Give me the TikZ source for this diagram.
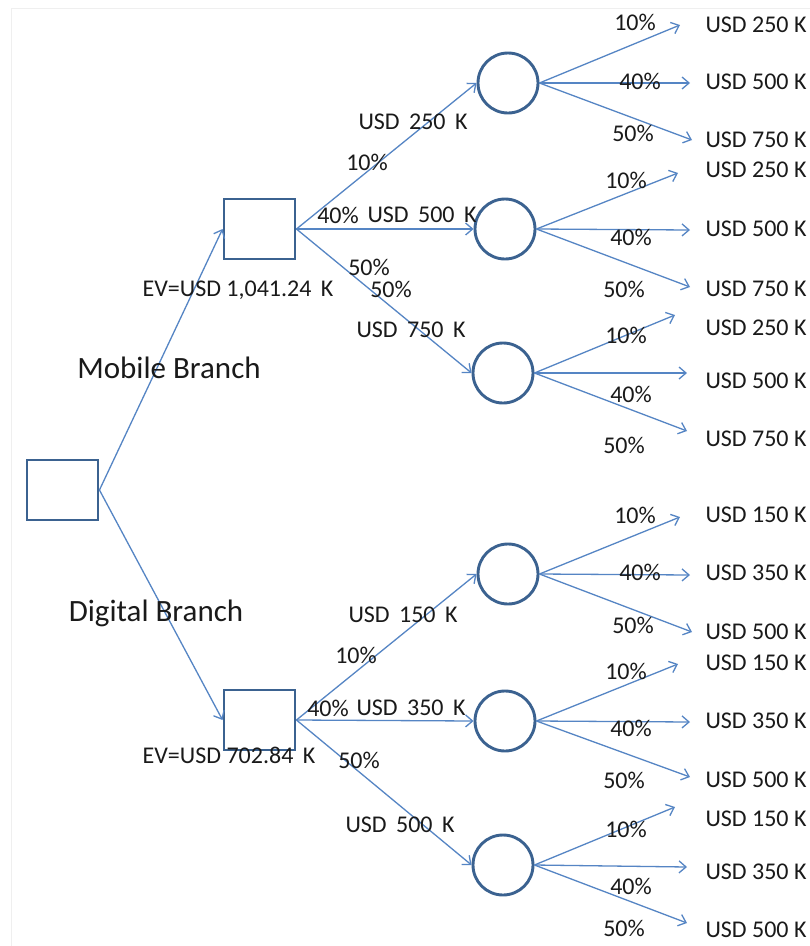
\documentclass[tikz,border=0pt]{standalone}
\usepackage{fontspec}
\setmainfont{Carlito}
\usetikzlibrary{arrows.meta}
\definecolor{shapeblue}{HTML}{3B6290}
\definecolor{linkblue}{HTML}{5585C4}
\definecolor{framegray}{HTML}{EFEFEF}
\definecolor{ink}{HTML}{1A1A1A}
\begin{document}
\begin{tikzpicture}[x=1pt,y=-1pt,
  decision/.style={draw=shapeblue,line width=2.9pt,fill=white,rectangle,
    minimum width=71pt,minimum height=60pt,inner sep=0pt},
  chance/.style={draw=shapeblue,line width=2.9pt,fill=white,circle,
    minimum size=60pt,inner sep=0pt},
  link/.style={draw=linkblue,line width=1.3pt,
    -{Straight Barb[length=7pt,width=12pt,line width=1.3pt]}},
  lbl/.style={inner sep=0pt,text=ink,font=\fontsize{24}{28}\selectfont},
  big/.style={inner sep=0pt,text=ink,font=\fontsize{31}{35}\selectfont},
]
\useasboundingbox (0,0) rectangle (810,946);
\fill[white] (0,0) rectangle (810,946);
% faint page frame
\draw[framegray,line width=0.8pt] (11,946) -- (11,8) -- (810,8);

% decision nodes
\node[decision] (root) at (62.5,490) {};
\node[decision] (mob) at (259.5,229) {};
\node[decision] (dig) at (259.5,720) {};

% chance nodes
\node[chance] (m1) at (508,83) {};
\node[chance] (m2) at (505,229) {};
\node[chance] (m3) at (503,373) {};
\node[chance] (d1) at (508,574) {};
\node[chance] (d2) at (505,721) {};
\node[chance] (d3) at (503,865) {};

% branches from the root
\draw[link] (root.east) -- (mob.west);
\draw[link] (root.east) -- (dig.west);
\node[big] at (169,368) {Mobile Branch};
\node[big] at (156,613) {Digital Branch};
\node[lbl] at (238,290) {EV=USD 1,041.24\, K};
\node[lbl] at (229,755) {EV=USD 702.84\, K};

% mobile branch to chance nodes
\draw[link] (mob.east) -- (m1.west);
\draw[link] (mob.east) -- (m2.west);
\draw[link] (mob.east) -- (m3.west);
\node[lbl] at (413,122) {USD\, 250\, K};
\node[lbl] at (367,162) {10\%};
\node[lbl] at (338,215) {40\%};
\node[lbl] at (422,215) {USD\, 500\, K};
\node[lbl] at (369,267) {50\%};
\node[lbl] at (391,289) {50\%};
\node[lbl] at (411,330) {USD\, 750\, K};

% digital branch to chance nodes
\draw[link] (dig.east) -- (d1.west);
\draw[link] (dig.east) -- (d2.west);
\draw[link] (dig.east) -- (d3.west);
\node[lbl] at (403,615) {USD\, 150\, K};
\node[lbl] at (356,655) {10\%};
\node[lbl] at (328,708) {40\%};
\node[lbl] at (411,708) {USD\, 350\, K};
\node[lbl] at (359,760) {50\%};
\node[lbl] at (400,825) {USD\, 500\, K};

% outcome end points
\coordinate (m1a) at (680,25);  \coordinate (m1b) at (690,83);  \coordinate (m1c) at (692,140);
\coordinate (m2a) at (678,173); \coordinate (m2b) at (690,230); \coordinate (m2c) at (690,287);
\coordinate (m3a) at (675,315); \coordinate (m3b) at (687,373); \coordinate (m3c) at (687,431);
\coordinate (d1a) at (680,517); \coordinate (d1b) at (690,575); \coordinate (d1c) at (692,632);
\coordinate (d2a) at (678,664); \coordinate (d2b) at (690,722); \coordinate (d2c) at (690,777);
\coordinate (d3a) at (675,807); \coordinate (d3b) at (687,867); \coordinate (d3c) at (687,923);

\foreach \n in {m1,m2,m3,d1,d2,d3}{
  \draw[link] (\n.east) -- (\n a);
  \draw[link] (\n.east) -- (\n b);
  \draw[link] (\n.east) -- (\n c);
}

% outcome labels, mobile
\node[lbl] at (756,25) {USD 250 K};
\node[lbl] at (756,82) {USD 500 K};
\node[lbl] at (756,140) {USD 750 K};
\node[lbl] at (635,22) {10\%};
\node[lbl] at (640,81) {40\%};
\node[lbl] at (633,133) {50\%};
\node[lbl] at (756,170) {USD 250 K};
\node[lbl] at (756,229) {USD 500 K};
\node[lbl] at (756,289) {USD 750 K};
\node[lbl] at (626,180) {10\%};
\node[lbl] at (631,237) {40\%};
\node[lbl] at (624,289) {50\%};
\node[lbl] at (756,328) {USD 250 K};
\node[lbl] at (756,381) {USD 500 K};
\node[lbl] at (756,439) {USD 750 K};
\node[lbl] at (626,335) {10\%};
\node[lbl] at (631,394) {40\%};
\node[lbl] at (624,445) {50\%};

% outcome labels, digital
\node[lbl] at (756,515) {USD 150 K};
\node[lbl] at (756,573) {USD 350 K};
\node[lbl] at (756,632) {USD 500 K};
\node[lbl] at (635,515) {10\%};
\node[lbl] at (640,572) {40\%};
\node[lbl] at (633,625) {50\%};
\node[lbl] at (756,663) {USD 150 K};
\node[lbl] at (756,721) {USD 350 K};
\node[lbl] at (756,780) {USD 500 K};
\node[lbl] at (626,671) {10\%};
\node[lbl] at (631,728) {40\%};
\node[lbl] at (624,780) {50\%};
\node[lbl] at (756,819) {USD 150 K};
\node[lbl] at (756,872) {USD 350 K};
\node[lbl] at (756,930) {USD 500 K};
\node[lbl] at (626,829) {10\%};
\node[lbl] at (631,886) {40\%};
\node[lbl] at (624,928) {50\%};
\end{tikzpicture}
\end{document}
